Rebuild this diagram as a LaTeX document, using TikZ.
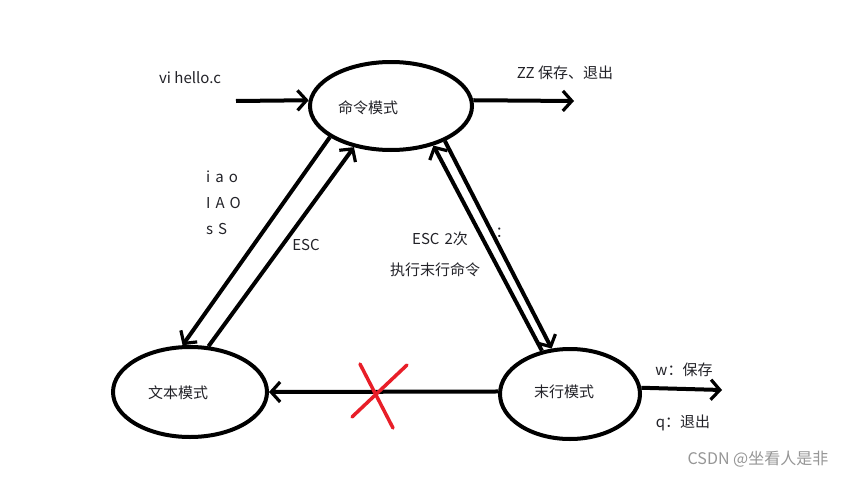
\documentclass[tikz,border=0pt]{standalone}
\usepackage{fontspec}
\setmainfont{Noto Sans CJK SC}
\usetikzlibrary{shapes.geometric,arrows.meta}
\definecolor{txt}{RGB}{34,34,40}
\definecolor{crossred}{RGB}{232,30,40}
\definecolor{wm}{RGB}{150,150,150}
\tikzset{
  oval/.style={draw, ellipse, line width=4pt, inner sep=0pt},
  conn/.style={line width=4pt, -{Straight Barb[length=9pt,width=20pt,line width=3.2pt]}},
  lbl/.style={text=txt, font=\fontsize{15}{18}\selectfont, inner sep=0pt},
  redx/.style={crossred, line width=3.5pt, line cap=round}
}
\begin{document}
\begin{tikzpicture}[x=1pt,y=-1pt]
\useasboundingbox[fill=white] (0,0) rectangle (860,479);
% ellipses
\node[oval, minimum width=162pt, minimum height=88pt] (cmd) at (391,106) {};
\node[oval, minimum width=154pt, minimum height=90pt] (txtm) at (190,392) {};
\node[oval, minimum width=140pt, minimum height=90pt] (lastm) at (570,394) {};
% labels in ellipses
\node[lbl] (cmdl) at (368,108) {命令模式};
\node[lbl] (txtl) at (178,393) {文本模式};
\node[lbl] (lastl) at (564,392) {末行模式};
% free ends
\coordinate (start) at (236,101);
\coordinate (zzend) at (574,101);
\coordinate (wqend) at (722,390);
% arrows
\draw[conn] (start) -- (cmd.176);
\draw[conn] (cmd.4) -- (zzend);
\draw[conn] (cmd.207) -- (txtm.99);
\draw[conn] (txtm.68) -- (cmd.228);
\draw[conn] (lastm.123) -- (cmd.317);
\draw[conn] (cmd.327) -- (lastm.112);
\draw[conn] (lastm.178) -- (txtm.0);
\draw[conn] (lastm.5) -- (wqend);
% red cross
\coordinate (xa1) at (360,364);
\coordinate (xa2) at (393,428);
\coordinate (xb1) at (407,365);
\coordinate (xb2) at (352,417);
\draw[redx] (xa1) -- (xa2);
\draw[redx] (xb1) -- (xb2);
% texts
\node[lbl] (vi) at (190,78) {vi hello.c};
\node[lbl] (zz) at (565,73) {ZZ 保存、退出};
\node[lbl, anchor=west] (iao) at (206,177) {i\,\,a\,\,o};
\node[lbl, anchor=west] (IAO) at (206,203) {I\,\,A\,\,O};
\node[lbl, anchor=west] (sS) at (206,229) {s\,\,S};
\node[lbl] (esc) at (306,245) {ESC};
\node[lbl] (esc2) at (440,239) {ESC\,\,2次};
\node[lbl] (exec) at (435,270) {执行末行命令};
\node[lbl] (colon) at (503,233) {：};
\node[lbl] (w) at (684,370) {w：保存};
\node[lbl] (q) at (683,423) {q：退出};
\node[text=wm, font=\fontsize{16}{19}\selectfont, inner sep=0pt] (csdn) at (758,459) {CSDN @坐看人是非};
\end{tikzpicture}
\end{document}
